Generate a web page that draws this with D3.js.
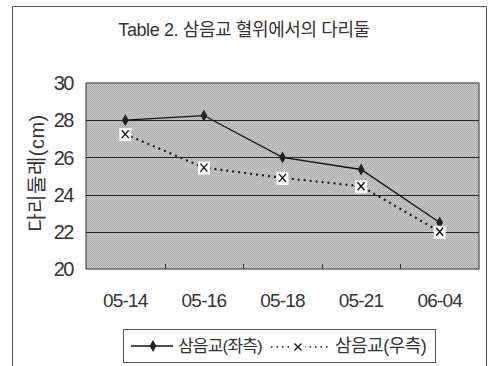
<!DOCTYPE html>
<html lang="ko">
<head>
<meta charset="UTF-8">
<title>Table 2</title>
<script src="https://d3js.org/d3.v7.min.js"></script>
<style>
  body { margin: 0; background: #fff; }
  text { font-family: "Liberation Sans", "Noto Sans CJK KR", sans-serif; fill: #333; }
</style>
</head>
<body>
<svg id="chart" width="489" height="366"></svg>
<script>
const dates = ["05-14", "05-16", "05-18", "05-21", "06-04"];
const leftValues = [28.0, 28.25, 26.0, 25.35, 22.5];
const rightValues = [27.25, 25.45, 24.9, 24.45, 22.0];
const yTicks = [20, 22, 24, 26, 28, 30];
const seriesNames = ["삼음교(좌측)", "삼음교(우측)"];
const title = "Table 2. 삼음교 혈위에서의 다리둘";
const yTitle = "다리둘레(cm)";

const svg = d3.select("#chart");

// outer frame
svg.append("path")
    .attr("d", "M12.5,366 V6.5 H486.5 V366")
    .attr("fill", "none").attr("stroke", "#555").attr("stroke-width", 1);

// texture for plot background
const defs = svg.append("defs");
const pat = defs.append("pattern").attr("id", "dots")
    .attr("width", 2).attr("height", 2).attr("patternUnits", "userSpaceOnUse");
pat.append("rect").attr("width", 2).attr("height", 2).attr("fill", "#cacaca");
pat.append("rect").attr("width", 1).attr("height", 1).attr("fill", "#ababab");
pat.append("rect").attr("x", 1).attr("y", 1).attr("width", 1).attr("height", 1).attr("fill", "#ababab");

const x = d3.scaleBand().domain(dates).range([86, 479]);
const y = d3.scaleLinear().domain([20, 30]).range([269, 83]);

svg.append("rect")
    .attr("x", 86).attr("y", 83).attr("width", 393).attr("height", 186)
    .attr("fill", "url(#dots)").attr("stroke", "#333").attr("stroke-width", 1);

// gridlines
svg.append("g").selectAll("line")
    .data(yTicks.filter(d => d > 20 && d < 30))
    .join("line")
    .attr("x1", 86).attr("x2", 479)
    .attr("y1", d => Math.round(y(d)) + 0.5).attr("y2", d => Math.round(y(d)) + 0.5)
    .attr("stroke", "#222").attr("stroke-width", 1);

// category separators at bottom
svg.append("g").selectAll("line")
    .data(dates.slice(1))
    .join("line")
    .attr("x1", d => Math.round(x(d)) + 0.5).attr("x2", d => Math.round(x(d)) + 0.5)
    .attr("y1", 269).attr("y2", 264)
    .attr("stroke", "#333");

// y tick labels
svg.append("g").selectAll("text")
    .data(yTicks)
    .join("text")
    .attr("x", 73).attr("y", d => y(d))
    .attr("dy", "0.36em")
    .attr("text-anchor", "end")
    .attr("font-size", 20)
    .attr("letter-spacing", -1.5)
    .text(d => d);

// x tick labels
svg.append("g").selectAll("text")
    .data(dates)
    .join("text")
    .attr("x", d => x(d) + x.bandwidth() / 2)
    .attr("y", 300).attr("dy", "0.36em")
    .attr("text-anchor", "middle")
    .attr("font-size", 19)
    .attr("letter-spacing", -0.8)
    .text(d => d);

// title
svg.append("text")
    .attr("x", 244).attr("y", 30).attr("dy", "0.36em")
    .attr("text-anchor", "middle")
    .attr("font-size", 18)
    .attr("letter-spacing", -0.4)
    .text(title);

// y axis title
svg.append("text")
    .attr("transform", "translate(37,173) rotate(-90)")
    .attr("dy", "0.36em")
    .attr("text-anchor", "middle")
    .attr("font-size", 20)
    .attr("letter-spacing", 0.5)
    .text(yTitle);

const line = d3.line()
    .x((d, i) => x(dates[i]) + x.bandwidth() / 2)
    .y(d => y(d));

svg.append("path")
    .datum(rightValues)
    .attr("d", line)
    .attr("fill", "none").attr("stroke", "#111")
    .attr("stroke-width", 2).attr("stroke-dasharray", "2,4");

svg.append("path")
    .datum(leftValues)
    .attr("d", line)
    .attr("fill", "none").attr("stroke", "#111").attr("stroke-width", 1.3);

const diamond = d3.symbol().type(d3.symbolDiamond).size(40);
svg.append("g").selectAll("path")
    .data(leftValues)
    .join("path")
    .attr("transform", (d, i) => `translate(${x(dates[i]) + x.bandwidth() / 2},${y(d)})`)
    .attr("d", diamond)
    .attr("fill", "#222");

const xMark = svg.append("g").selectAll("g")
    .data(rightValues)
    .join("g")
    .attr("transform", (d, i) => `translate(${x(dates[i]) + x.bandwidth() / 2},${y(d)})`);
xMark.append("rect")
    .attr("x", -6).attr("y", -6).attr("width", 12).attr("height", 13)
    .attr("fill", "#fff");
xMark.append("path")
    .attr("d", "M-3.5,-4 L3.5,4 M3.5,-4 L-3.5,4")
    .attr("stroke", "#111").attr("stroke-width", 1.4);

// legend
const lg = svg.append("g");
lg.append("rect")
    .attr("x", 123.5).attr("y", 329.5).attr("width", 312).attr("height", 33)
    .attr("fill", "#fff").attr("stroke", "#555");
lg.append("line")
    .attr("x1", 131).attr("x2", 173).attr("y1", 346).attr("y2", 346)
    .attr("stroke", "#111").attr("stroke-width", 1.3);
lg.append("path")
    .attr("transform", "translate(153,346)")
    .attr("d", diamond).attr("fill", "#222");
lg.append("text")
    .attr("x", 178).attr("y", 346).attr("dy", "0.36em")
    .attr("font-size", 17).attr("letter-spacing", -0.8)
    .text(seriesNames[0]);
lg.append("line")
    .attr("x1", 271).attr("x2", 330).attr("y1", 347).attr("y2", 347)
    .attr("stroke", "#111").attr("stroke-width", 1.5).attr("stroke-dasharray", "1.5,4");
lg.append("rect")
    .attr("x", 291).attr("y", 340).attr("width", 14).attr("height", 14).attr("fill", "#fff");
lg.append("path")
    .attr("d", "M294.5,343.5 L301.5,350.5 M301.5,343.5 L294.5,350.5")
    .attr("stroke", "#111").attr("stroke-width", 1.3);
lg.append("text")
    .attr("x", 335).attr("y", 346).attr("dy", "0.36em")
    .attr("font-size", 18).attr("letter-spacing", -0.5)
    .text(seriesNames[1]);
</script>
</body>
</html>
